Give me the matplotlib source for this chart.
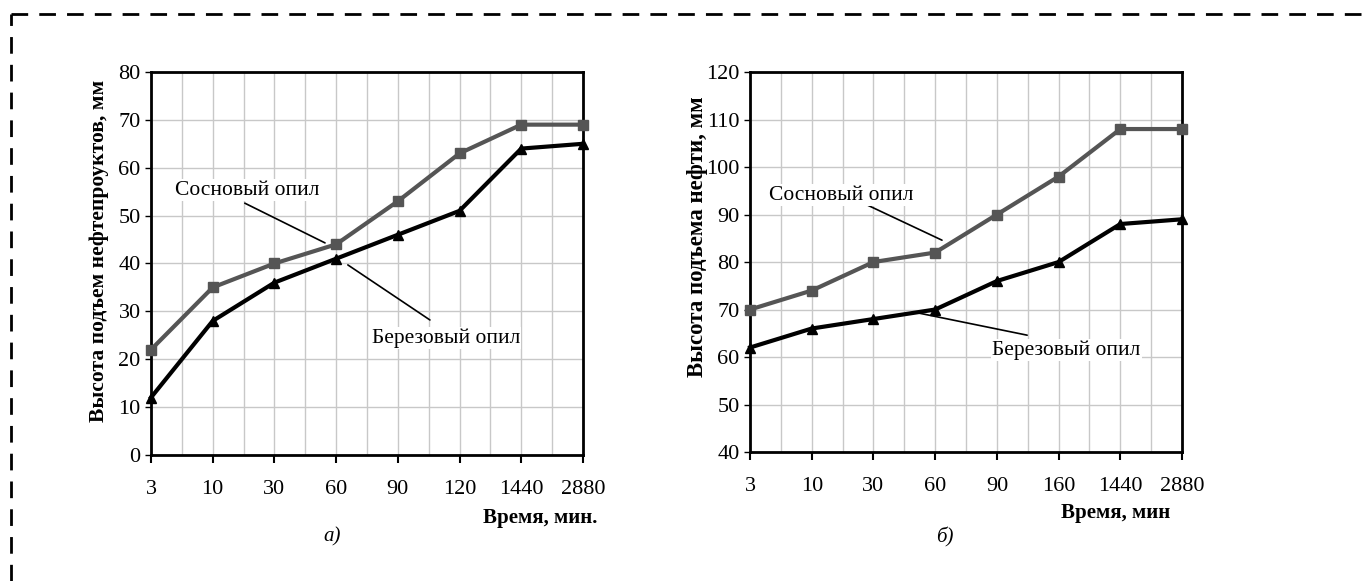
import matplotlib.pyplot as plt
from matplotlib.lines import Line2D

plt.rcParams['font.family'] = ['Liberation Serif', 'DejaVu Serif']

# time points (categorical) and rise heights
time_a = ['3', '10', '30', '60', '90', '120', '1440', '2880']
pine_a = [22, 35, 40, 44, 53, 63, 69, 69]
birch_a = [12, 28, 36, 41, 46, 51, 64, 65]

time_b = ['3', '10', '30', '60', '90', '160', '1440', '2880']
pine_b = [70, 74, 80, 82, 90, 98, 108, 108]
birch_b = [62, 66, 68, 70, 76, 80, 88, 89]

fig = plt.figure(figsize=(13.64, 5.81), dpi=100)

# dashed frame around the figure (top and left edges)
fig.add_artist(Line2D([0.008, 1.0], [0.976, 0.976], transform=fig.transFigure,
                      color='black', lw=2, dashes=(6, 4)))
fig.add_artist(Line2D([0.008, 0.008], [0.0, 0.976], transform=fig.transFigure,
                      color='black', lw=2, dashes=(6, 4)))


def draw(ax, labels, pine, birch, ylim, ystep, ylabel, lab_size, lab_pos, notes):
    x = list(range(len(labels)))
    ax.plot(x, pine, color='#555555', lw=3, marker='s', ms=6.5, zorder=3,
            clip_on=False)
    ax.plot(x, birch, color='black', lw=3, marker='^', ms=6.5, zorder=3,
            clip_on=False)
    ax.set_xlim(0, len(labels) - 1)
    ax.set_ylim(*ylim)
    ax.set_xticks(x)
    ax.set_xticklabels(labels)
    ax.set_xticks([i + 0.5 for i in x[:-1]], minor=True)
    ax.set_yticks(range(ylim[0], ylim[1] + 1, ystep))
    ax.grid(True, which='both', axis='x', color='#c8c8c8', lw=1)
    ax.grid(True, which='major', axis='y', color='#c8c8c8', lw=1)
    ax.tick_params(axis='x', which='minor', length=0)
    ax.tick_params(axis='x', which='major', length=6, width=1.5, pad=12, labelsize=16)
    ax.tick_params(axis='y', length=4, width=1, labelsize=16)
    for s in ax.spines.values():
        s.set_linewidth(2)
    ax.set_ylabel(ylabel, fontsize=lab_size, fontweight='bold')
    ax.yaxis.set_label_coords(*lab_pos)
    for text, (start, end), pos in notes:
        ax.annotate('', xy=end, xytext=start, zorder=4,
                    arrowprops=dict(arrowstyle='-', color='black', lw=1.2,
                                    shrinkA=0, shrinkB=0))
        ax.text(*pos, text, fontsize=15.5, ha='center', va='center',
                zorder=4, bbox=dict(fc='white', ec='none', pad=1))


ax1 = fig.add_axes([0.1107, 0.2169, 0.3167, 0.6592])
ax2 = fig.add_axes([0.5499, 0.2220, 0.3167, 0.6540])

draw(ax1, time_a, pine_a, birch_a, (0, 80), 10,
     'Высота подъем нефтепроуктов, мм', 15.5, (-0.097, 0.533),
     [('Сосновый опил', ((1.52, 52.6), (2.82, 44.3)), (1.56, 55.3)),
      ('Березовый опил', ((3.19, 39.7), (4.52, 28.2)), (4.78, 24.4))])
draw(ax2, time_b, pine_b, birch_b, (40, 120), 10,
     'Высота подъема нефти, мм', 16.5, (-0.097, 0.568),
     [('Сосновый опил', ((1.90, 92.0), (3.11, 84.6)), (1.47, 94.1)),
      ('Березовый опил', ((2.64, 69.5), (4.49, 64.6)), (5.12, 61.5))])

fig.text(597 / 1364, 1 - 518 / 581, 'Время, мин.', fontsize=15, fontweight='bold',
         ha='right', va='center')
fig.text(332 / 1364, 1 - 537 / 581, 'а)', fontsize=15, style='italic',
         ha='center', va='center')
fig.text(1170 / 1364, 1 - 513 / 581, 'Время, мин', fontsize=15, fontweight='bold',
         ha='right', va='center')
fig.text(945 / 1364, 1 - 537 / 581, 'б)', fontsize=15, style='italic',
         ha='center', va='center')

fig.savefig('out.png', dpi=100)
